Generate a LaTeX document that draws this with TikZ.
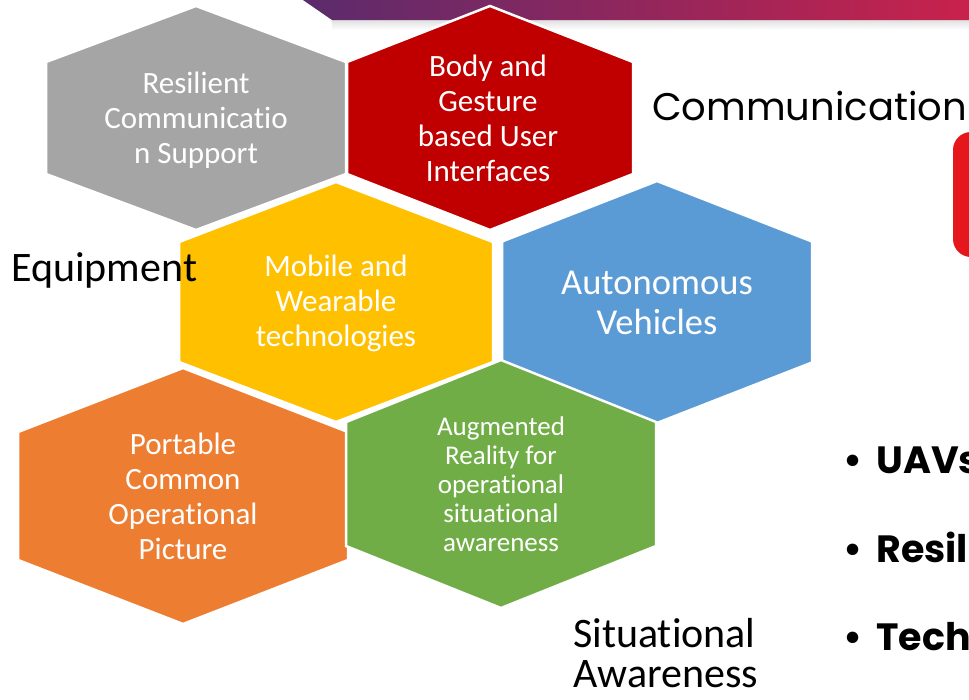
\documentclass[tikz,border=0pt]{standalone}
\usepackage{fontspec}
\setmainfont{Carlito}[Ligatures=NoCommon]
\newfontfamily\popfont{Poppins}
\usetikzlibrary{calc}
\definecolor{hexgray}{HTML}{A5A5A5}
\definecolor{hexred}{HTML}{C00000}
\definecolor{hexyellow}{HTML}{FFC000}
\definecolor{hexblue}{HTML}{5B9BD5}
\definecolor{hexorange}{HTML}{ED7D31}
\definecolor{hexgreen}{HTML}{70AD47}
\definecolor{bandleft}{HTML}{5B2B6C}
\definecolor{bandright}{HTML}{C8224C}
\definecolor{boxred}{HTML}{E5161C}
\newcommand{\hexa}[5]{\filldraw[fill=#5, draw=white, line width=2.5pt]
  ({#1-#3},{#2-#4/2}) -- (#1,{#2-#4}) -- ({#1+#3},{#2-#4/2}) --
  ({#1+#3},{#2+#4/2}) -- (#1,{#2+#4}) -- ({#1-#3},{#2+#4/2}) -- cycle;}
\newcommand{\fs}[2]{\fontsize{#1}{#2}\selectfont}
\tikzset{
  hextext/.style={white, align=center, inner sep=0pt, font=\fs{31}{35}},
  sidelabel/.style={black, align=left, inner sep=0pt, font=\fs{42}{40}},
  bulletline/.style={black, anchor=base west, inner sep=0pt, font=\popfont\bfseries\fs{38}{40}}
}
\begin{document}
\begin{tikzpicture}[x=1pt, y=-1pt]
  \useasboundingbox (0,0) rectangle (969,699);
  \clip (0,0) rectangle (969,699);
  \shade[top color=black!12, bottom color=white] (332,20) rectangle (969,30);
  \shade[left color=bandleft, right color=bandright] (303,0) -- (969,0) -- (969,20) -- (332,20) -- cycle;
  \fill[boxred, rounded corners=18pt] (953,132) rectangle (1010,257);

  \hexa{196}{118}{150}{112}{hexgray}
  \hexa{490}{118}{143}{112}{hexred}
  \hexa{336}{302}{157}{120}{hexyellow}
  \hexa{657}{302}{155}{121}{hexblue}
  \hexa{183}{496}{165}{128}{hexorange}
  \hexa{501}{484}{155}{124}{hexgreen}

  \node[hextext] (rescomm) at (196,120) {Resilient\\Communicatio\\n Support};
  \node[hextext] (gesture) at (488,118) {Body and\\Gesture\\based User\\Interfaces};
  \node[hextext] (mobile) at (336,303) {Mobile and\\Wearable\\technologies};
  \node[hextext, font=\fs{36.5}{40}] (auton) at (657,303) {Autonomous\\Vehicles};
  \node[hextext] (cop) at (183,496) {Portable\\Common\\Operational\\Picture};
  \node[hextext, font=\fs{27}{29}] (ar) at (501,484) {Augmented\\Reality for\\operational\\situational\\awareness};

  \node[anchor=base west, inner sep=0pt, font=\popfont\fs{38.5}{40}] (comm) at (652,120) {Communication};
  \node[sidelabel, anchor=base west] (equip) at (11,281) {Equipment};
  \node[sidelabel, anchor=north west] (sitaw) at (573,618) {Situational\\Awareness};

  \node[bulletline] (uavs) at (843,473) {\textbullet\hspace{14pt}UAVs};
  \node[bulletline] (resil) at (843,562) {\textbullet\hspace{14pt}Resil};
  \node[bulletline] (tech) at (843,650) {\textbullet\hspace{14pt}Tech};
\end{tikzpicture}
\end{document}
